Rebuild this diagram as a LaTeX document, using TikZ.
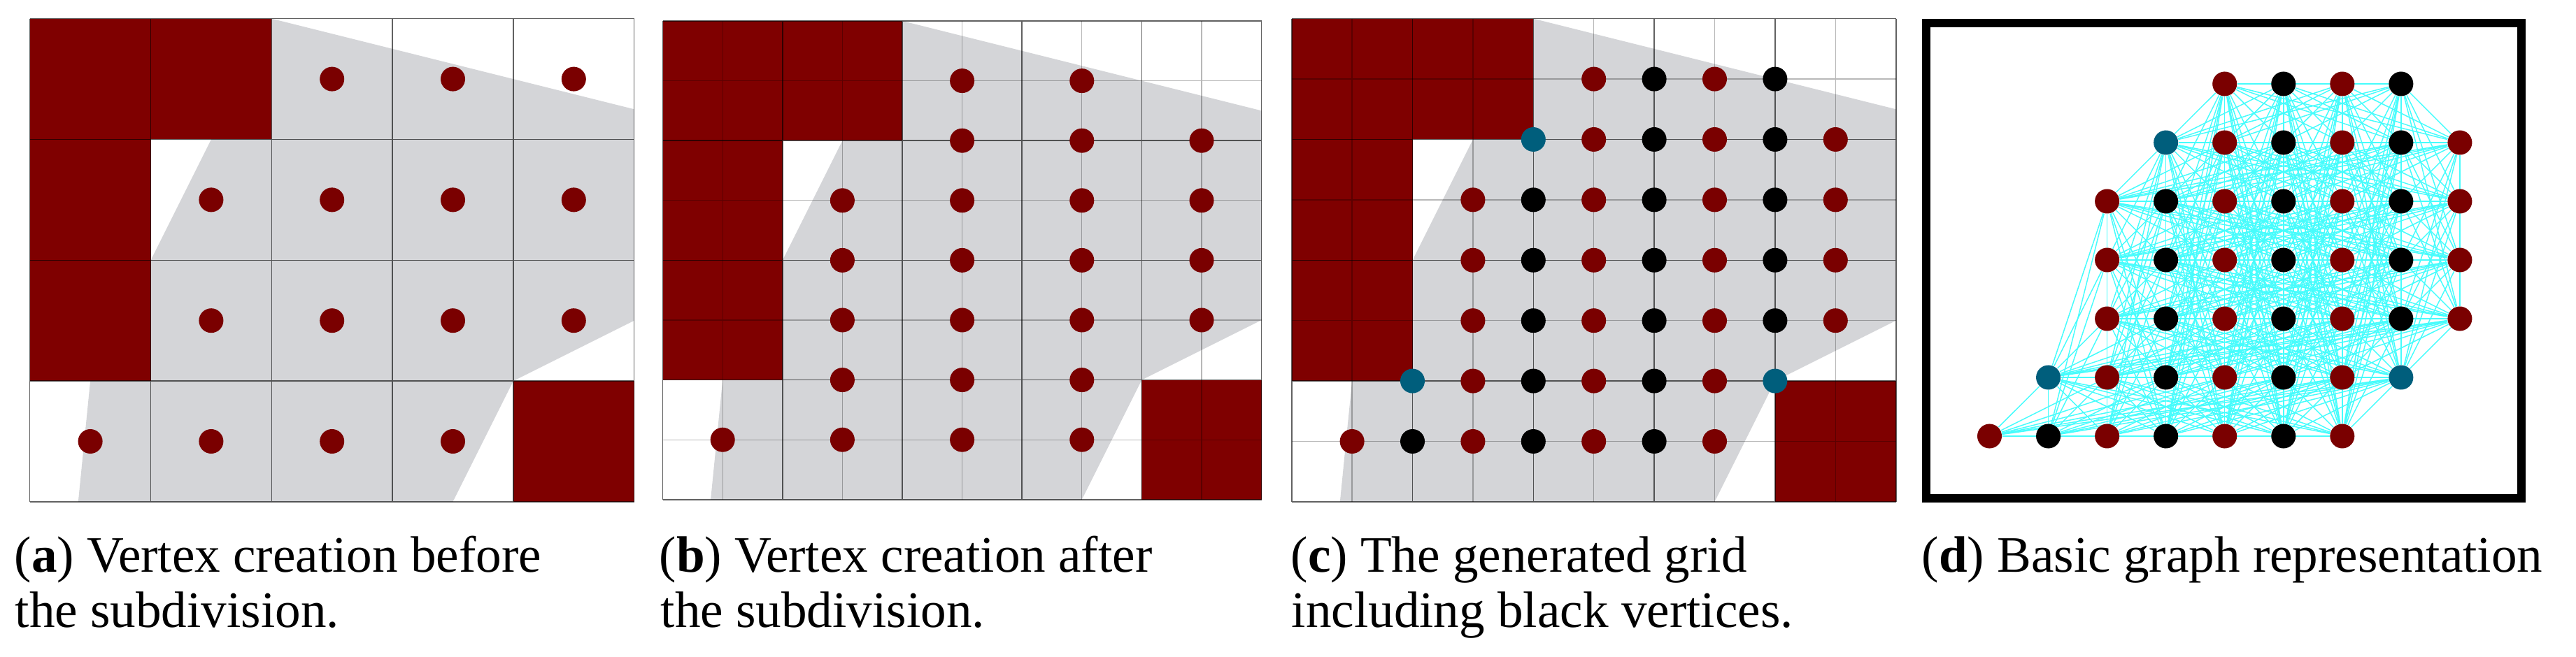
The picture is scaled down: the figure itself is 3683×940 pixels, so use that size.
\documentclass[tikz,border=0pt]{standalone}
\usepackage{fontspec}
\setmainfont{Liberation Serif}
\pgfdeclarelayer{bg}
\pgfsetlayers{bg,main}
\definecolor{maroonc}{RGB}{127,0,0}
\definecolor{dotred}{RGB}{122,0,0}
\definecolor{bluev}{RGB}{0,94,124}
\definecolor{regiongray}{RGB}{212,213,216}
\definecolor{edgecyan}{RGB}{70,252,252}
\newcommand\capfont{\fontsize{20.8}{25}\selectfont}
\tikzset{
  majorline/.style={draw=black, draw opacity=0.62, line width=0.45pt},
  minorline/.style={draw=black, draw opacity=0.28, line width=0.38pt},
  vdot/.style={circle, inner sep=0pt, minimum size=0.35cm, draw=none, fill=#1},
  edgeline/.style={draw=edgecyan, line width=0.42pt},
  capnode/.style={anchor=base west, inner sep=0pt, font=\capfont},
  frameline/.style={draw=black, line width=3.41pt},
}
\def\vlist{4/0,5/0,6/0,7/0,3/1,4/1,5/1,6/1,7/1,8/1,2/2,3/2,4/2,5/2,6/2,7/2,8/2,2/3,3/3,4/3,5/3,6/3,7/3,8/3,2/4,3/4,4/4,5/4,6/4,7/4,8/4,1/5,2/5,3/5,4/5,5/5,6/5,7/5,0/6,1/6,2/6,3/6,4/6,5/6,6/6}
\newcommand\zqcolor[2]{%
  \def\zqcol{dotred}%
  \ifodd#1\relax\def\zqcol{black}\fi
  \ifnum#1#2=31\relax\def\zqcol{bluev}\fi
  \ifnum#1#2=15\relax\def\zqcol{bluev}\fi
  \ifnum#1#2=75\relax\def\zqcol{bluev}\fi}
\newcommand\zqregion{%
  \fill[regiongray] (2,0) -- (5,0.75) -- (5,2.5) -- (4,3) -- (3.5,4) -- (0.4,4) -- (0.5,3) -- (1,2) -- (1.5,1) -- cycle;
  \fill[maroonc] (0,0) rectangle (2,1);
  \fill[maroonc] (0,1) rectangle (1,3);
  \fill[maroonc] (4,3) rectangle (5,4);}
\newcommand\zqmajor{%
  \draw[majorline] \foreach \k in {0,...,5} {(\k,0) -- (\k,4)} \foreach \k in {0,...,4} {(0,\k) -- (5,\k)};}
\newcommand\zqminor{%
  \draw[minorline] \foreach \k in {0.5,1.5,2.5,3.5,4.5} {(\k,0) -- (\k,4)} \foreach \k in {0.5,1.5,2.5,3.5} {(0,\k) -- (5,\k)};}
\begin{document}
\begin{tikzpicture}[x=0.01cm,y=-0.01cm]
\useasboundingbox (0,0) rectangle (3683,940);
% ---------- panel (a)
\begin{scope}[shift={(42.7,26.7)},scale=172.8]
  \zqregion
  \zqmajor
  \foreach \c/\r in {2/0,3/0,4/0,1/1,2/1,3/1,4/1,1/2,2/2,3/2,4/2,0/3,1/3,2/3,3/3}
    \node[vdot=dotred] (a-\c-\r) at (\c+0.5,\r+0.5) {};
\end{scope}
% ---------- panel (b)
\begin{scope}[shift={(947.6,30)},scale=171.2]
  \zqregion
  \zqminor
  \zqmajor
  \foreach \i/\j in \vlist {
    \ifodd\i\relax\else
      \node[vdot=dotred] (b-\i-\j) at ({0.5+\i/2},{0.5+\j/2}) {};
    \fi}
\end{scope}
% ---------- panel (c)
\begin{scope}[shift={(1846.7,26.7)},scale=172.8]
  \zqregion
  \zqminor
  \zqmajor
  \foreach \i/\j in \vlist {
    \zqcolor{\i}{\j}
    \node[vdot=\zqcol] (c-\i-\j) at ({0.5+\i/2},{0.5+\j/2}) {};}
\end{scope}
% ---------- panel (d)
\draw[frameline] (2754.3,32.9) rectangle (3604.6,712.7);
\foreach \i/\j in \vlist {
  \zqcolor{\i}{\j}
  \node[vdot=\zqcol] (d-\i-\j) at ({2844.5+84.05*\i},{120+84*\j}) {};}
\begin{pgfonlayer}{bg}
\foreach \xa/\ya [count=\ia] in \vlist {
  \foreach \xb/\yb [count=\ib] in \vlist {
    \ifnum\ib>\ia\relax
      \def\zqok{0}%
      \ifnum\numexpr(\xb-\xa)*(\xb-\xa)\relax<2 \def\zqok{1}\fi
      \ifnum\numexpr(\yb-\ya)*(\yb-\ya)\relax<2 \def\zqok{1}\fi
      \ifnum\zqok=1\relax
        \draw[edgeline] (d-\xa-\ya) -- (d-\xb-\yb);
      \fi
    \fi}}
\end{pgfonlayer}
% ---------- captions
\node[capnode] (capa1) at (20,819) {(\textbf{a}) Vertex creation before};
\node[capnode] (capa2) at (21,897) {the subdivision.};
\node[capnode] (capb1) at (942,819) {(\textbf{b}) Vertex creation after};
\node[capnode] (capb2) at (944,897) {the subdivision.};
\node[capnode] (capc1) at (1845,819) {(\textbf{c}) The generated grid};
\node[capnode] (capc2) at (1846,897) {including black vertices.};
\node[capnode] (capd1) at (2747,819) {(\textbf{d}) Basic graph representation};
\end{tikzpicture}
\end{document}
